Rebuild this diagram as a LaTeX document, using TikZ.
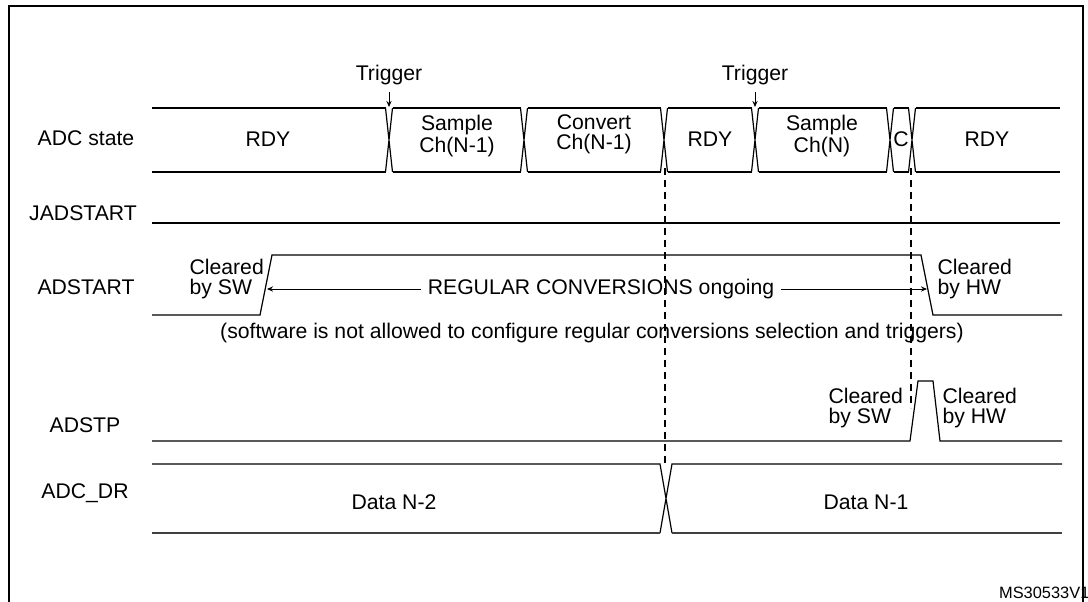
\documentclass[tikz,border=0pt]{standalone}
\usepackage{fontspec}
\setmainfont{Liberation Sans}
\usetikzlibrary{arrows.meta}

\begin{document}
\begin{tikzpicture}[x=0.5pt, y=-0.5pt, >={Stealth[length=3pt,width=2.6pt]}, line width=0.6pt,
      font=\fontsize{10.6}{9.8}\selectfont,
      cell/.style={align=center, inner sep=0pt},
      note/.style={align=left, inner sep=0pt, anchor=west},
      marker/.style={dash pattern=on 3.5pt off 2.5pt, line width=0.6pt},
      lowedge/.style={line width=1pt, draw=black!75},
      frame/.style={line width=1.3pt}]
    \useasboundingbox (0,0) rectangle (1088,601);
    % signal names
    \node (adcst) at (86,138) {ADC state};
    \node (jad) at (83,213) {JADSTART};
    \node (ads) at (86,287) {ADSTART};
    \node (adstp) at (85,425) {ADSTP};
    \node (adcdr) at (85,493) {ADC\_DR};
    % ADC state bus
    \foreach \a/\b in {148.5/389,389/524,524/664,664/755,755/890,890/912,912/1063.5}
      \draw (\a+3.5,108) -- (\b-3.5,108) (\a+3.5,172) -- (\b-3.5,172);
    \foreach \t in {389,524,664,755,890,912}
      \draw (\t-3.5,108) -- (\t+3.5,172) (\t-3.5,172) -- (\t+3.5,108);
    \node[cell] (rdyA) at (268,139) {RDY};
    \node[cell] (smpA) at (457,136) {Sample\\Ch(N-1)};
    \node[cell] (cnvA) at (594,134) {Convert\\Ch(N-1)};
    \node[cell] (rdyB) at (710,139) {RDY};
    \node[cell] (smpB) at (822,136) {Sample\\Ch(N)};
    \node[cell] (cB) at (901,139) {C};
    \node[cell] (rdyC) at (987,139) {RDY};
    % triggers
    \node (trgA) at (389,75) {Trigger};
    \node (trgB) at (755,75) {Trigger};
    \coordinate (tA) at (389,107);
    \coordinate (tB) at (755,107);
    \draw[->, line width=0.5pt] (trgA) -- (tA);
    \draw[->, line width=0.5pt] (trgB) -- (tB);
    % JADSTART
    \draw (152,223) -- (1060,223);
    % ADSTART
    \draw (152,315) -- (260,315) -- (272,255) -- (921,255) -- (933,315) -- (1062,315);
    \node[note] (swA) at (189,279) {Cleared\\by SW};
    \node[note] (hwA) at (937,279) {Cleared\\by HW};
    \node[cell, inner xsep=3pt] (reg) at (601,289) {REGULAR CONVERSIONS ongoing};
    \coordinate (swEdge) at (267,289);
    \coordinate (hwEdge) at (927,289);
    \draw[->, line width=0.5pt] (reg) -- (swEdge);
    \draw[->, line width=0.5pt] (reg) -- (hwEdge);
    \node (rule) at (592,333) {(software is not allowed to configure regular conversions selection and triggers)};
    % ADSTP
    \draw (152,441) -- (910,441) -- (918,381) -- (933,381) -- (940,441) -- (1062,441);
    \node[note] (swB) at (828,408) {Cleared\\by SW};
    \node[note] (hwB) at (942,408) {Cleared\\by HW};
    % ADC_DR bus
    \draw (152,464) -- (660,464) -- (672,533) (660,533) -- (672,464) -- (1062,464);
    \draw[lowedge] (152,533) -- (660,533) (672,533) -- (1062,533);
    \node (datA) at (394,502) {Data N-2};
    \node (datB) at (866,502) {Data N-1};
    % dashed markers
    \draw[marker] (665,168) -- (665,466);
    \draw[marker] (911,168) -- (911,408);
    % figure frame
    \node[anchor=east, inner sep=0pt, font=\fontsize{8.2}{9}\selectfont] (ref) at (1090,593) {MS30533V1};
    \draw[frame] (9,610) -- (9,6) -- (1083,6) -- (1083,610);
  \end{tikzpicture}
\end{document}
